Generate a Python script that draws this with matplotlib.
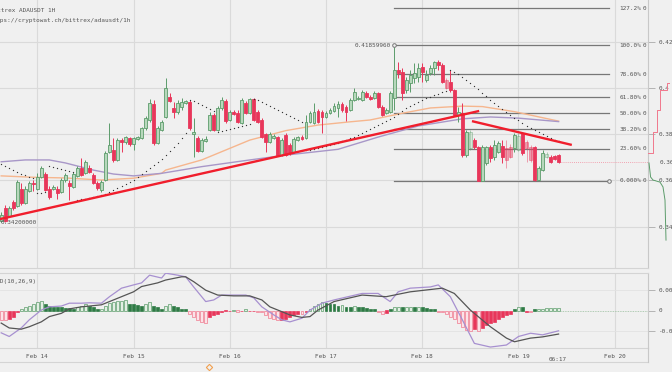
import matplotlib
matplotlib.use("Agg")
import matplotlib.pyplot as plt
from matplotlib.patches import Rectangle

# hourly candles, hour 0 = Feb 14 00:00
hours = list(range(-9, 131))
opens = [0.3425, 0.3481, 0.3446, 0.3507, 0.3489, 0.3563, 0.3502, 0.3554, 0.3589,
         0.3563, 0.3615, 0.3628, 0.3563, 0.3563, 0.3563, 0.3550, 0.3602, 0.3589, 0.3572,
         0.3619, 0.3654, 0.3632, 0.3654, 0.3624, 0.3589, 0.3559, 0.3602, 0.3723, 0.3732,
         0.3689, 0.3775, 0.3767, 0.3784, 0.3758, 0.3780, 0.3784, 0.3827, 0.3862, 0.3931,
         0.3762, 0.3818, 0.3875, 0.3961, 0.3914, 0.3896, 0.3918, 0.3935, 0.3940, 0.3801,
         0.3784, 0.3728, 0.3771, 0.3818, 0.3883, 0.3818, 0.3914, 0.3944, 0.3862, 0.3896,
         0.3892, 0.3849, 0.3935, 0.3892, 0.3953, 0.3896, 0.3862, 0.3801, 0.3767, 0.3784,
         0.3788, 0.3710, 0.3797, 0.3754, 0.3723, 0.3775, 0.3788, 0.3784, 0.3853, 0.3849,
         0.3901, 0.3896, 0.3875, 0.3892, 0.3901, 0.3914, 0.3931, 0.3918, 0.3905, 0.3948,
         0.3953, 0.3948, 0.3979, 0.3961, 0.3957, 0.3979, 0.3918, 0.3892, 0.3896, 0.3957,
         0.4078, 0.4070, 0.3992, 0.4022, 0.4044, 0.4048, 0.4091, 0.4035, 0.4065, 0.4087,
         0.4113, 0.4100, 0.4035, 0.4026, 0.3992, 0.3883, 0.3892, 0.3710, 0.3741, 0.3775,
         0.3745, 0.3598, 0.3676, 0.3745, 0.3702, 0.3723, 0.3749, 0.3741, 0.3745, 0.3741,
         0.3732, 0.3806, 0.3767, 0.3745, 0.3745, 0.3602, 0.3645, 0.3702, 0.3702, 0.3706,
         0.3710]
highs = [0.3464, 0.3494, 0.3489, 0.3515, 0.3602, 0.3589, 0.3576, 0.3598, 0.3602,
         0.3632, 0.3663, 0.3637, 0.3576, 0.3580, 0.3576, 0.3611, 0.3632, 0.3602, 0.3637,
         0.3663, 0.3697, 0.3689, 0.3667, 0.3632, 0.3598, 0.3602, 0.3728, 0.3849, 0.3784,
         0.3784, 0.3784, 0.3793, 0.3788, 0.3788, 0.3793, 0.3831, 0.3879, 0.3953, 0.3948,
         0.3836, 0.3862, 0.4044, 0.3979, 0.3940, 0.3948, 0.3957, 0.3948, 0.3948, 0.3870,
         0.3793, 0.3784, 0.3793, 0.3896, 0.3892, 0.3922, 0.3961, 0.3953, 0.3905, 0.3905,
         0.3905, 0.3957, 0.3944, 0.3957, 0.3957, 0.3905, 0.3870, 0.3806, 0.3810, 0.3801,
         0.3793, 0.3784, 0.3806, 0.3762, 0.3788, 0.3793, 0.3797, 0.3883, 0.3901, 0.3935,
         0.3909, 0.3905, 0.3901, 0.3914, 0.3935, 0.3944, 0.3940, 0.3927, 0.3957, 0.4000,
         0.3966, 0.3992, 0.3987, 0.3970, 0.3987, 0.3983, 0.3927, 0.3914, 0.3987, 0.4186,
         0.4113, 0.4087, 0.4048, 0.4078, 0.4109, 0.4109, 0.4109, 0.4078, 0.4100, 0.4117,
         0.4122, 0.4109, 0.4044, 0.4078, 0.3996, 0.3918, 0.3935, 0.3818, 0.3818, 0.3784,
         0.3749, 0.3754, 0.3749, 0.3754, 0.3775, 0.3771, 0.3775, 0.3775, 0.3758, 0.3806,
         0.3806, 0.3810, 0.3775, 0.3754, 0.3749, 0.3663, 0.3732, 0.3723, 0.3710, 0.3710,
         0.3715]
lows = [0.3420, 0.3422, 0.3442, 0.3472, 0.3485, 0.3494, 0.3498, 0.3550, 0.3554,
        0.3559, 0.3611, 0.3554, 0.3520, 0.3559, 0.3520, 0.3546, 0.3593, 0.3515, 0.3567,
        0.3615, 0.3619, 0.3628, 0.3632, 0.3585, 0.3559, 0.3550, 0.3598, 0.3719, 0.3680,
        0.3684, 0.3723, 0.3758, 0.3749, 0.3732, 0.3775, 0.3780, 0.3818, 0.3853, 0.3754,
        0.3758, 0.3814, 0.3870, 0.3940, 0.3870, 0.3888, 0.3905, 0.3931, 0.3818, 0.3702,
        0.3723, 0.3723, 0.3767, 0.3814, 0.3814, 0.3814, 0.3905, 0.3849, 0.3857, 0.3883,
        0.3849, 0.3844, 0.3888, 0.3888, 0.3857, 0.3849, 0.3784, 0.3723, 0.3762, 0.3780,
        0.3706, 0.3706, 0.3706, 0.3710, 0.3719, 0.3771, 0.3775, 0.3780, 0.3849, 0.3844,
        0.3849, 0.3806, 0.3870, 0.3888, 0.3896, 0.3875, 0.3896, 0.3857, 0.3901, 0.3944,
        0.3948, 0.3944, 0.3957, 0.3948, 0.3953, 0.3914, 0.3879, 0.3888, 0.3892, 0.3905,
        0.4044, 0.3948, 0.3979, 0.3983, 0.4022, 0.4026, 0.4026, 0.4026, 0.4057, 0.4057,
        0.4078, 0.4022, 0.3996, 0.3983, 0.3879, 0.3853, 0.3702, 0.3702, 0.3732, 0.3736,
        0.3598, 0.3598, 0.3667, 0.3680, 0.3689, 0.3719, 0.3676, 0.3654, 0.3697, 0.3723,
        0.3728, 0.3710, 0.3680, 0.3680, 0.3598, 0.3598, 0.3641, 0.3697, 0.3676, 0.3689,
        0.3676]
closes = [0.3451, 0.3425, 0.3481, 0.3481, 0.3593, 0.3502, 0.3563, 0.3589, 0.3585,
          0.3615, 0.3654, 0.3559, 0.3528, 0.3572, 0.3546, 0.3602, 0.3624, 0.3576, 0.3628,
          0.3654, 0.3624, 0.3680, 0.3637, 0.3589, 0.3567, 0.3593, 0.3719, 0.3754, 0.3689,
          0.3775, 0.3767, 0.3788, 0.3758, 0.3784, 0.3788, 0.3827, 0.3870, 0.3935, 0.3762,
          0.3827, 0.3853, 0.4000, 0.3944, 0.3896, 0.3935, 0.3940, 0.3944, 0.3827, 0.3810,
          0.3728, 0.3775, 0.3780, 0.3883, 0.3818, 0.3914, 0.3948, 0.3857, 0.3896, 0.3888,
          0.3853, 0.3948, 0.3892, 0.3953, 0.3862, 0.3853, 0.3788, 0.3767, 0.3801, 0.3793,
          0.3710, 0.3775, 0.3710, 0.3719, 0.3780, 0.3788, 0.3780, 0.3853, 0.3892, 0.3896,
          0.3853, 0.3875, 0.3892, 0.3905, 0.3922, 0.3931, 0.3905, 0.3896, 0.3948, 0.3983,
          0.3957, 0.3983, 0.3961, 0.3953, 0.3979, 0.3918, 0.3883, 0.3905, 0.3979, 0.4078,
          0.4065, 0.3979, 0.4035, 0.4057, 0.4065, 0.4087, 0.4070, 0.4057, 0.4087, 0.4113,
          0.4100, 0.4026, 0.4000, 0.3992, 0.3883, 0.3896, 0.3710, 0.3810, 0.3810, 0.3745,
          0.3598, 0.3745, 0.3745, 0.3697, 0.3754, 0.3762, 0.3702, 0.3689, 0.3702, 0.3797,
          0.3793, 0.3719, 0.3741, 0.3689, 0.3602, 0.3654, 0.3719, 0.3715, 0.3680, 0.3693,
          0.3680]
faded = [102, 108, 117, 118, 120, 122, 123, 127]

# moving averages
ma_fast_hours = [-9, -1, 7, 16, 24, 31, 32, 41, 53, 62, 70, 78, 83, 91, 98, 106, 111, 119, 130]
ma_fast = [0.3620, 0.3614, 0.3611, 0.3602, 0.3610, 0.3631, 0.3645, 0.3689, 0.3775, 0.3816,
           0.3840, 0.3854, 0.3862, 0.3891, 0.3914, 0.3922, 0.3920, 0.3898, 0.3857]
ma_slow_hours = [-9, -3, 3, 7, 14, 19, 24, 31, 41, 53, 62, 75, 85, 95, 106, 113, 120, 130]
ma_slow = [0.3681, 0.3689, 0.3689, 0.3676, 0.3645, 0.3628, 0.3620, 0.3631, 0.3660, 0.3689,
           0.3710, 0.3735, 0.3788, 0.3836, 0.3867, 0.3875, 0.3870, 0.3855]

# parabolic SAR dots, one per candle
sar_hours = list(range(-9, 131))
sar = [0.3671, 0.3663, 0.3654, 0.3645, 0.3637, 0.3630, 0.3624, 0.3617, 0.3611,
       0.3546, 0.3548, 0.3550,
       0.3663, 0.3658, 0.3654, 0.3650, 0.3645, 0.3641, 0.3637,
       0.3515, 0.3518, 0.3520, 0.3524, 0.3528, 0.3533, 0.3537, 0.3543, 0.3550, 0.3559,
       0.3567, 0.3576, 0.3585, 0.3593, 0.3602, 0.3615, 0.3628, 0.3641, 0.3654, 0.3667,
       0.3680, 0.3693, 0.3710, 0.3728, 0.3745, 0.3762, 0.3784, 0.3806,
       0.3948, 0.3944, 0.3935, 0.3927, 0.3918, 0.3909, 0.3901,
       0.3810, 0.3814, 0.3818, 0.3823, 0.3827, 0.3831, 0.3836, 0.3840, 0.3844,
       0.3953, 0.3948, 0.3940, 0.3931, 0.3922, 0.3914, 0.3905, 0.3896, 0.3888, 0.3879, 0.3870,
       0.3862, 0.3853,
       0.3732, 0.3734, 0.3736, 0.3741, 0.3745, 0.3749, 0.3754, 0.3758, 0.3764, 0.3771,
       0.3775, 0.3782, 0.3788, 0.3797, 0.3806, 0.3814, 0.3823, 0.3831, 0.3840, 0.3849,
       0.3857, 0.3866, 0.3875, 0.3888, 0.3901, 0.3914, 0.3922, 0.3931, 0.3940, 0.3948,
       0.3955, 0.3961, 0.3968, 0.3974, 0.3981, 0.3987,
       0.4078, 0.4070, 0.4059, 0.4048, 0.4035, 0.4022, 0.4009, 0.3994, 0.3979, 0.3964,
       0.3948, 0.3935, 0.3922, 0.3909, 0.3896, 0.3883, 0.3870, 0.3860, 0.3849, 0.3838,
       0.3827, 0.3818, 0.3810, 0.3801, 0.3793, 0.3784, 0.3777, 0.3771]

# drawn trend lines (hour, price)
trend_up = [(-9.3, 0.3433), (110.2, 0.3901)]
trend_down = [(108.4, 0.3857), (133.3, 0.3754)]

fib_low, fib_high = 0.3598, 0.418599
fib_levels = [1.272, 1.0, 0.786, 0.618, 0.5, 0.382, 0.236, 0.0]
fib_names = ["127.2%", "100.0%", "78.60%", "61.80%", "50.00%", "38.20%", "23.60%", "0.000%"]
last_price = 0.3680

# MACD(10,26,9)
macd_hours = [-9, -7, -4, -2, 1, 3, 6, 8, 11, 13, 16, 18, 21, 24, 26, 28, 31, 32, 35, 37,
              39, 41, 42, 44, 46, 49, 52, 54, 56, 59, 61, 63, 66, 68, 71, 74, 81, 85, 88, 90,
              93, 98, 100, 103, 106, 109, 113, 117, 120, 123, 126, 130]
macd = [-0.0055, -0.0064, -0.0043, -0.0023, 0.0001, 0.0009, 0.0011, 0.0018, 0.0018, 0.0019,
        0.0018, 0.0034, 0.0055, 0.0063, 0.0068, 0.0087, 0.0080, 0.0092, 0.0087, 0.0083,
        0.0058, 0.0034, 0.0022, 0.0026, 0.0038, 0.0038, 0.0038, 0.0031, 0.0009, -0.0011,
        -0.0023, -0.0028, -0.0019, 0.0001, 0.0018, 0.0026, 0.0042, 0.0042, 0.0022, 0.0046,
        0.0055, 0.0058, 0.0063, 0.0034, -0.0023, -0.0081, -0.0090, -0.0085, -0.0064, -0.0056,
        -0.0060, -0.0050]
signal_hours = [-9, -7, -4, -2, 1, 3, 6, 8, 11, 13, 16, 18, 21, 24, 26, 30, 32, 36, 37, 39,
                42, 45, 49, 53, 56, 58, 61, 63, 66, 68, 70, 74, 81, 87, 93, 101, 104, 108, 113, 117,
                119, 123, 126, 130]
signal = [-0.0031, -0.0043, -0.0046, -0.0040, -0.0028, -0.0015, -0.0007, 0.0004, 0.0009, 0.0011,
          0.0014, 0.0022, 0.0034, 0.0046, 0.0059, 0.0068, 0.0075, 0.0083, 0.0083, 0.0071,
          0.0050, 0.0038, 0.0036, 0.0036, 0.0026, 0.0009, -0.0003, -0.0011, -0.0017, -0.0015,
          0.0001, 0.0022, 0.0038, 0.0034, 0.0046, 0.0055, 0.0042, 0.0001, -0.0040, -0.0068,
          -0.0077, -0.0068, -0.0065, -0.0058]
hist = [-0.00246, -0.00246, -0.00221, -0.00148, -0.00025, 0.00025, 0.00074, 0.00123, 0.00172,
        0.00221, 0.00246, 0.00148, 0.00123, 0.00098, 0.00093, 0.00074, 0.00071, 0.00066, 0.00049,
        0.00098, 0.00123, 0.00148, 0.00123, 0.00074, 0.00025, 0.00049, 0.00123, 0.00197, 0.00221,
        0.00234, 0.00246, 0.00258, 0.00172, 0.00148, 0.00135, 0.00123, 0.00172, 0.00221, 0.00123,
        0.00098, 0.00049, 0.00123, 0.00172, 0.00123, 0.00098, 0.00049, 0.00025, -0.00074, -0.00148,
        -0.00246, -0.00295, -0.0032, -0.00172, -0.00123, -0.00098, -0.00025, -0.0002, -0.00012, 0.00012,
        -0.00037, -0.00012, 0.00025, -0.00012, -0.0001, -0.00025, -0.00049, -0.00123, -0.00197, -0.00221,
        -0.00246, -0.00241, -0.00221, -0.00172, -0.00123, -0.00074, -0.00086, -0.00025, 0.00049, 0.00123,
        0.00172, 0.00221, 0.00197, 0.00172, 0.00148, 0.00123, 0.00128, 0.00098, 0.00093, 0.00111,
        0.00098, 0.00074, 0.00069, 0.00049, 0.00025, -0.00049, -0.00074, -0.00069, 0.00025, 0.00074,
        0.00098, 0.00074, 0.00079, 0.00086, 0.00074, 0.00086, 0.00074, 0.00062, 0.00049, 0.00025,
        -0.00025, -0.00049, -0.00098, -0.00148, -0.00221, -0.0032, -0.00418, -0.00492, -0.00517, -0.00467,
        -0.00517, -0.00443, -0.00369, -0.0032, -0.00271, -0.00221, -0.00172, -0.00123, -0.00074, 0.00049,
        0.00098, 0.00086, -0.00025, -0.0003, 0.00025, 0.00037, 0.00049, 0.00054, 0.00057, 0.00059,
        0.0006]

# order book depth beside the price axis
ask_prices = [0.3719, 0.3719, 0.3810, 0.3905, 0.3992, 0.4022]
ask_depth = [0, 5, 9, 12, 19, 21]
bid_prices = [0.3676, 0.3615, 0.3602, 0.3593, 0.3572, 0.3515, 0.3342]
bid_depth = [1, 2.6, 5, 12, 15, 17, 18]

date_ticks = [0, 24, 48, 72, 96, 120, 144]
date_labels = ["Feb 14", "Feb 15", "Feb 16", "Feb 17", "Feb 18", "Feb 19", "Feb 20"]

BG = "#f0f0f0"
GRID = "#dadada"
TXT = "#555555"
UP_EDGE, UP_FILL = "#5c9c6b", "#b7d8bc"
DOWN = "#e8365a"
FONT = "DejaVu Sans Mono"
FS = 4.3

W, H = 672, 372
fig = plt.figure(figsize=(W / 100, H / 100), dpi=100, facecolor=BG)


def px_axes(x0, y0, x1, y1):
    return fig.add_axes([x0 / W, 1 - y1 / H, (x1 - x0) / W, (y1 - y0) / H])


XLIM = (-9.3, 152.3)

# ---- price panel
ax = px_axes(0, 0, 648, 268)
ax.set_facecolor(BG)
ax.set_xlim(*XLIM)
ax.set_ylim(0.32212, 0.43814)
for t in date_ticks:
    ax.axvline(t, color=GRID, lw=0.8, zorder=0)
for p in [0.34, 0.36, 0.38, 0.40, 0.42]:
    ax.axhline(p, color=GRID, lw=0.8, zorder=0)

for h, o, hi, lo, c in zip(hours, opens, highs, lows, closes):
    up = c >= o
    a = 0.45 if h in faded else 1.0
    ec = UP_EDGE if up else DOWN
    ax.vlines(h, lo, hi, color=ec, lw=0.7, alpha=a, zorder=3)
    ax.add_patch(Rectangle((h - 0.36, min(o, c)), 0.72, max(abs(c - o), 0.00015),
                           facecolor=UP_FILL if up else DOWN, edgecolor=ec, lw=0.6,
                           alpha=a, zorder=4))

ax.plot(ma_fast_hours, ma_fast, color="#f6b68e", lw=1.0, zorder=2)
ax.plot(ma_slow_hours, ma_slow, color="#a897c8", lw=1.0, zorder=2)
ax.scatter(sar_hours, sar, s=0.9, color="#333333", zorder=5, linewidths=0)

for line in (trend_up, trend_down):
    ax.plot([line[0][0], line[1][0]], [line[0][1], line[1][1]], color="#f01e2c", lw=1.7,
            zorder=6, solid_capstyle="butt")

# fibonacci retracement
for lvl, name in zip(fib_levels, fib_names):
    p = fib_low + lvl * (fib_high - fib_low)
    ax.plot([89, 142.6], [p, p], color="#777777", lw=0.9, zorder=1)
    ax.text(145.1, p, name, ha="left", va="center", fontsize=FS, family=FONT, color=TXT)
    ax.text(151.0, p, "0", ha="left", va="center", fontsize=FS, family=FONT, color=TXT)
ax.plot([89], [fib_high], "o", ms=2.6, mfc=BG, mec="#777777", mew=0.7, zorder=7)
ax.plot([142.6], [fib_low], "o", ms=2.6, mfc=BG, mec="#777777", mew=0.7, zorder=7)
ax.text(88.3, fib_high, "0.41859960", ha="right", va="center", fontsize=FS, family=FONT,
        color=TXT)
ax.text(-9.1, 0.3418, "0.34200000", ha="left", va="center", fontsize=FS, family=FONT,
        color=TXT, zorder=8)

ax.plot([130.5, XLIM[1]], [last_price, last_price], color="#f28a9c", lw=0.6, ls=(0, (1, 1.5)))

ax.yaxis.tick_right()
ax.set_yticks([0.34, 0.36, 0.38, 0.40, 0.42])
ax.set_yticklabels(["0.34", "0.36", "0.38", "0.4", "0.42"], family=FONT, fontsize=FS,
                   color=TXT)
ax.tick_params(axis="y", length=5, width=0.6, color="#aaaaaa", pad=3)
ax.annotate("0.368", xy=(1.0185, last_price), xycoords=("axes fraction", "data"),
            ha="left", va="center", fontsize=FS, family=FONT, color=TXT,
            annotation_clip=False)
ax.set_xticks([])
for s in ["top", "left"]:
    ax.spines[s].set_visible(False)
ax.spines["right"].set_color("#c8c8c8")
ax.spines["bottom"].set_color("#d4d4d4")

# depth beside the axis
axd = px_axes(648, 0, 672, 268)
axd.set_xlim(0, 24)
axd.set_ylim(0.32212, 0.43814)
axd.step(ask_depth, ask_prices, color="#f0788c", lw=0.7)
axd.plot(bid_depth, bid_prices, color="#5c9c6b", lw=0.7)
axd.axis("off")

# ---- MACD panel
axm = px_axes(0, 273, 648, 348)
axm.set_facecolor(BG)
axm.set_xlim(*XLIM)
axm.set_ylim(-0.009236, 0.009236)
for t in date_ticks:
    axm.axvline(t, color=GRID, lw=0.8, zorder=0)
for v in [-0.005, 0.005]:
    axm.axhline(v, color="#e2e2e2", lw=0.6, zorder=0)

prev = 0.0
for h, v in zip(hours, hist):
    shrinking = abs(v) < abs(prev)
    if v >= 0:
        fc, ec = ("#2e7b45", "#2e7b45") if shrinking else ("#e3efe4", "#5c9c6b")
    else:
        fc, ec = ("#e8365a", "#e8365a") if shrinking else ("#fbe3e8", "#f0798f")
    axm.add_patch(Rectangle((h - 0.36, min(0, v)), 0.72, abs(v), facecolor=fc,
                            edgecolor=ec, lw=0.5, zorder=3))
    prev = v
axm.plot([130.5, XLIM[1]], [0, 0], color="#9bbf9f", lw=0.6, ls=(0, (1, 1)))
axm.plot(macd_hours, macd, color="#a790d0", lw=0.9, zorder=4)
axm.plot(signal_hours, signal, color="#555555", lw=0.9, zorder=4)

axm.yaxis.tick_right()
axm.set_yticks([0.005, 0, -0.005])
axm.set_yticklabels(["0.005", "0", "-0.005"], family=FONT, fontsize=FS, color=TXT)
axm.tick_params(axis="y", length=5, width=0.6, color="#aaaaaa", pad=3)
axm.set_xticks(date_ticks)
axm.set_xticklabels(date_labels, family=FONT, fontsize=FS, color=TXT)
axm.tick_params(axis="x", length=0, pad=4)
axm.text(129.7, -0.01155, "06:17", ha="center", va="top", fontsize=FS, family=FONT,
         color=TXT, clip_on=False)
axm.plot([42.9], [-0.0139], marker="D", ms=3.2, mfc="none", mec="#f0a050", mew=0.8,
         clip_on=False)
axm.spines["left"].set_visible(False)
axm.spines["right"].set_color("#c8c8c8")
axm.spines["top"].set_color("#d4d4d4")
axm.spines["bottom"].set_color("#d4d4d4")

# bottom rule under the date labels
fig.add_artist(plt.Line2D([0, 648 / W], [1 - 362 / H, 1 - 362 / H], color="#d4d4d4", lw=0.8))
fig.add_artist(plt.Line2D([648 / W, 648 / W], [1 - 362 / H, 1 - 348 / H], color="#c8c8c8",
                          lw=0.8))

fig.text(-10.5 / W, 1 - 10.5 / H, "Bittrex ADAUSDT 1H", fontsize=FS, family=FONT,
         color=TXT, va="center")
fig.text(-10.5 / W, 1 - 20.5 / H, "https://cryptowat.ch/bittrex/adausdt/1h", fontsize=FS,
         family=FONT, color=TXT, va="center")
fig.text(-10.5 / W, 1 - 281 / H, "MACD(10,26,9)", fontsize=FS, family=FONT, color=TXT,
         va="center")

fig.savefig("out.png", dpi=100, facecolor=BG)
